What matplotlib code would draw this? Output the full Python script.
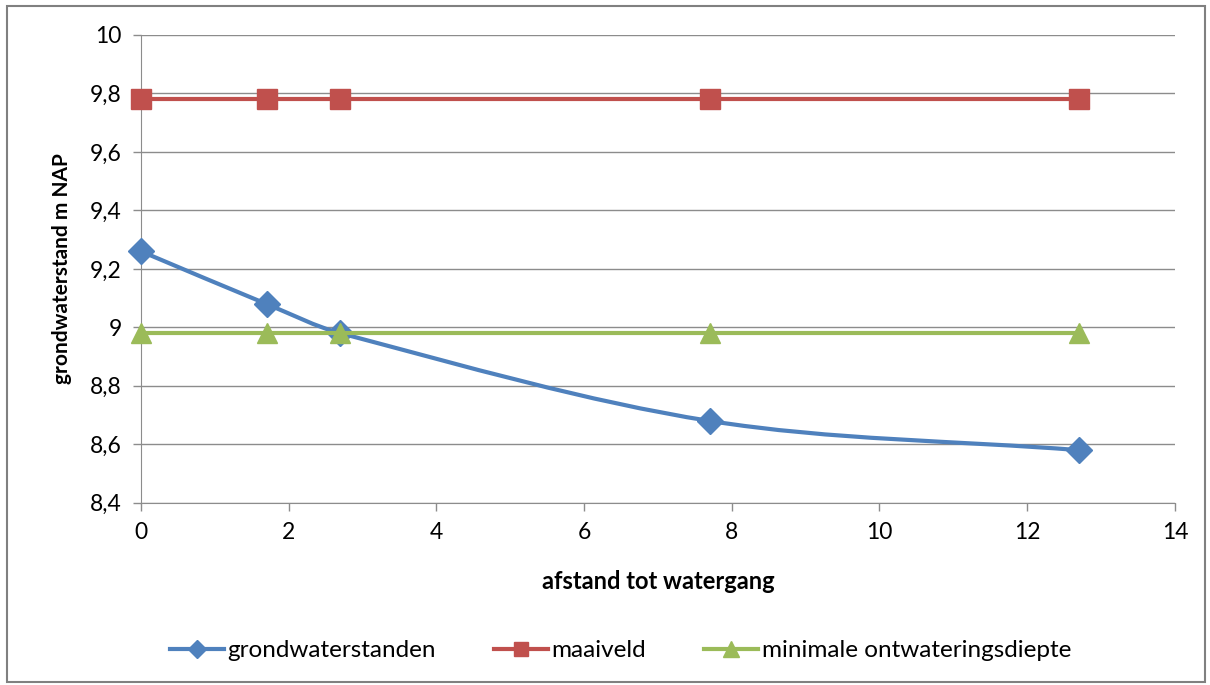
"""Grondwaterstanden versus afstand tot watergang (Excel-style chart)."""

import matplotlib

matplotlib.use("Agg")
import matplotlib.pyplot as plt
from matplotlib.patches import PathPatch, Rectangle
from matplotlib.path import Path
from matplotlib.ticker import FuncFormatter

plt.rcParams["font.family"] = ["Lato", "DejaVu Sans"]

afstand = [0, 1.7, 2.7, 7.7, 12.7]
grondwaterstanden = [9.26, 9.08, 8.98, 8.68, 8.58]
maaiveld = [9.78, 9.78, 9.78, 9.78, 9.78]
ontwateringsdiepte = [8.98, 8.98, 8.98, 8.98, 8.98]

BLUE = "#4F81BD"
RED = "#C0504D"
GREEN = "#9BBB59"
GRID = "#8C8C8C"


def smooth_path(xs, ys):
    """Bezier path through the points (smoothed line like Excel)."""
    n = len(xs)
    slopes = []
    for i in range(n):
        lo = max(i - 1, 0)
        hi = min(i + 1, n - 1)
        slopes.append((ys[hi] - ys[lo]) / (xs[hi] - xs[lo]))
    verts = [(xs[0], ys[0])]
    codes = [Path.MOVETO]
    for i in range(n - 1):
        h = (xs[i + 1] - xs[i]) / 3
        verts += [(xs[i] + h, ys[i] + slopes[i] * h),
                  (xs[i + 1] - h, ys[i + 1] - slopes[i + 1] * h),
                  (xs[i + 1], ys[i + 1])]
        codes += [Path.CURVE4] * 3
    return Path(verts, codes)


fig = plt.figure(figsize=(12.1, 6.85), dpi=100)
ax = fig.add_axes([0.1165, 0.266, 0.8545, 0.683])

ax.add_patch(PathPatch(smooth_path(afstand, grondwaterstanden), fill=False,
                       edgecolor=BLUE, lw=3, capstyle="round", zorder=3))
ax.plot(afstand, grondwaterstanden, ls="none", marker="D", ms=13,
        color=BLUE, zorder=4, clip_on=False)
ax.plot(afstand, maaiveld, color=RED, lw=3, marker="s", ms=14, zorder=5,
        clip_on=False)
ax.plot(afstand, ontwateringsdiepte, color=GREEN, lw=3, marker="^", ms=15,
        zorder=6, clip_on=False)

# legend handles
ax.plot([], [], color=BLUE, lw=3, marker="D", ms=9, label="grondwaterstanden")
ax.plot([], [], color=RED, lw=3, marker="s", ms=10, label="maaiveld")
ax.plot([], [], color=GREEN, lw=3, marker="^", ms=11, label="minimale ontwateringsdiepte")

ax.set_xlim(0, 14)
ax.set_ylim(8.4, 10)
ax.set_xticks(range(0, 15, 2))
ax.set_yticks([8.4, 8.6, 8.8, 9.0, 9.2, 9.4, 9.6, 9.8, 10.0])
ax.yaxis.set_major_formatter(
    FuncFormatter(lambda v, _: f"{v:.1f}".rstrip("0").rstrip(".").replace(".", ",")))
ax.grid(axis="y", color=GRID, lw=1)
ax.set_axisbelow(True)
for side in ("top", "right"):
    ax.spines[side].set_visible(False)
for side in ("left", "bottom"):
    ax.spines[side].set_color(GRID)
ax.tick_params(colors=GRID, labelcolor="black", labelsize=16.5, length=6, width=1)
ax.tick_params(axis="x", pad=8)
ax.tick_params(axis="y", pad=8)

ax.set_xlabel("afstand tot watergang", fontsize=17, fontweight="bold", labelpad=19)
ax.set_ylabel("grondwaterstand m NAP", fontsize=15, fontweight="bold", labelpad=13)

handles, labels = ax.get_legend_handles_labels()
fig.legend(handles[-3:], labels[-3:], loc="center", bbox_to_anchor=(0.513, 0.05),
           ncol=3, frameon=False, fontsize=17.5, handlelength=2.2,
           handletextpad=0.15, columnspacing=2.4)

fig.add_artist(Rectangle((0.006, 0.005), 0.99, 0.986, transform=fig.transFigure,
                         fill=False, edgecolor="#808080", lw=1.5))

fig.savefig("out.png", dpi=100)
